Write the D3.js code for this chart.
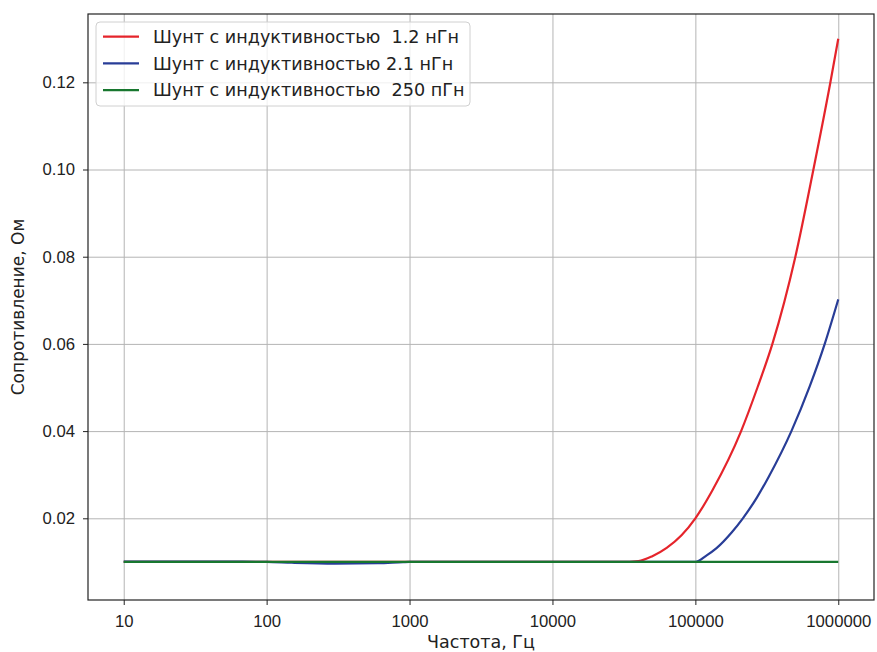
<!DOCTYPE html>
<meta charset="utf-8">
<style>
    body { margin: 0; background: #fff; }
    svg { font-family: "DejaVu Sans", sans-serif; }
    .line { fill: none; stroke-width: 2.2px; }
    .grid line { stroke: #b4b4b4; stroke-width: 1px; }
    .grid path { display: none; }
    .axis text { font-size: 16.7px; fill: #222; }
    .axis line { stroke: #222; }
    .axis path { display: none; }
    .axis-label { font-size: 17.5px; fill: #222; }
    .legend text { font-size: 17.6px; fill: #222; white-space: pre; }
</style>
<svg width="877" height="652"></svg>
<script src="https://d3js.org/d3.v7.min.js"></script>
<script>
    // Data
    const seriesNames = [
        "Шунт с индуктивностью  1.2 нГн",
        "Шунт с индуктивностью 2.1 нГн",
        "Шунт с индуктивностью  250 пГн"
    ];
    const seriesColors = ["#e5242b", "#283d97", "#18772f"];

    const redFreq = [10, 100, 1000, 10000, 30000, 40000, 50000, 63000, 80000, 100000, 132000, 209000, 272000, 346000, 501000, 670000, 881000, 1000000];
    const redVal  = [0.01, 0.01, 0.01, 0.01, 0.01, 0.0102, 0.0113, 0.0132, 0.0161, 0.02, 0.0265, 0.04, 0.05, 0.06, 0.08, 0.10, 0.12, 0.13];

    const blueFreq = [10, 30, 60, 100, 150, 300, 600, 900, 1000, 10000, 100000, 120000, 140000, 180000, 215000, 270000, 327000, 470000, 632000, 804000, 1000000];
    const blueVal  = [0.01005, 0.01008, 0.01005, 0.01, 0.0098, 0.0096, 0.0097, 0.00995, 0.01, 0.01, 0.01, 0.0115, 0.0131, 0.0168, 0.02, 0.0248, 0.0296, 0.04, 0.0503, 0.06, 0.0702];

    const greenFreq = [10, 100, 1000, 10000, 100000, 1000000];
    const greenVal  = [0.01, 0.01, 0.01, 0.01, 0.01, 0.01];

    const xTicks = [10, 100, 1000, 10000, 100000, 1000000];
    const yTicks = [0.02, 0.04, 0.06, 0.08, 0.10, 0.12];

    const svg = d3.select("svg"),
        margin = { top: 14, right: 3, bottom: 52, left: 88 },
        width = +svg.attr("width") - margin.left - margin.right,
        height = +svg.attr("height") - margin.top - margin.bottom;

    const g = svg.append("g").attr("transform", `translate(${margin.left},${margin.top})`);

    const x = d3.scaleLog()
        .domain([Math.pow(10, 0.75), Math.pow(10, 6.25)])
        .range([0, width]);

    const y = d3.scaleLinear()
        .domain([0.00126, 0.13567])
        .range([height, 0]);

    // Gridlines
    g.append("g")
        .attr("class", "grid")
        .call(d3.axisLeft(y).tickValues(yTicks).tickSize(-width).tickFormat(""));

    g.append("g")
        .attr("class", "grid")
        .attr("transform", `translate(0,${height})`)
        .call(d3.axisBottom(x).tickValues(xTicks).tickSize(-height).tickFormat(""));

    // Lines
    const line = d3.line()
        .x(d => x(d[0]))
        .y(d => y(d[1]))
        .curve(d3.curveMonotoneX);

    const series = [
        d3.zip(redFreq, redVal),
        d3.zip(blueFreq, blueVal),
        d3.zip(greenFreq, greenVal)
    ];

    series.forEach((values, i) => {
        g.append("path")
            .datum(values)
            .attr("class", "line")
            .attr("d", line)
            .attr("stroke", seriesColors[i]);
    });

    // Axes
    g.append("g")
        .attr("class", "axis")
        .attr("transform", `translate(0,${height})`)
        .call(d3.axisBottom(x).tickValues(xTicks).tickSize(5).tickPadding(10).tickFormat(d3.format("d")));

    g.append("g")
        .attr("class", "axis")
        .call(d3.axisLeft(y).tickValues(yTicks).tickSize(5).tickPadding(8).tickFormat(d3.format(".2f")));

    // Frame
    g.append("rect")
        .attr("width", width)
        .attr("height", height)
        .attr("fill", "none")
        .attr("stroke", "#222")
        .attr("stroke-width", 1.2);

    // Axis labels
    svg.append("text")
        .attr("class", "axis-label")
        .attr("x", margin.left + width / 2)
        .attr("y", 648)
        .attr("text-anchor", "middle")
        .text("Частота, Гц");

    svg.append("text")
        .attr("class", "axis-label")
        .style("font-size", "17px")
        .attr("transform", "rotate(-90)")
        .attr("x", -(margin.top + height / 2))
        .attr("y", 24)
        .attr("text-anchor", "middle")
        .text("Сопротивление, Ом");

    // Legend
    const legend = svg.append("g")
        .attr("class", "legend")
        .attr("transform", "translate(96,22)");

    legend.append("rect")
        .attr("width", 374)
        .attr("height", 84)
        .attr("rx", 4)
        .attr("fill", "#fff")
        .attr("fill-opacity", 0.8)
        .attr("stroke", "#d0d0d0");

    seriesNames.forEach((name, i) => {
        const yy = 14.7 + i * 26.7;
        legend.append("line")
            .attr("x1", 7)
            .attr("x2", 43)
            .attr("y1", yy)
            .attr("y2", yy)
            .attr("stroke", seriesColors[i])
            .attr("stroke-width", 2.2);
        legend.append("text")
            .attr("x", 57)
            .attr("y", yy)
            .attr("dy", "0.35em")
            .text(name);
    });
</script>
